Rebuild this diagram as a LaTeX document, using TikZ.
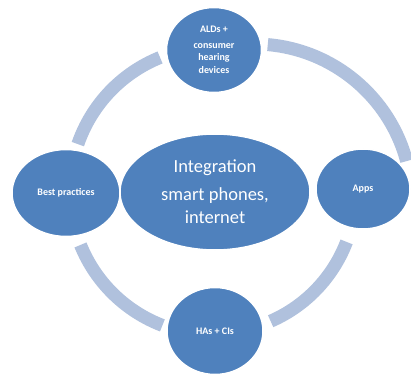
\documentclass[tikz,border=0pt]{standalone}
\usepackage{fontspec}
\setmainfont{Carlito}
\usetikzlibrary{shapes.geometric}
\definecolor{nodeblue}{RGB}{79,129,189}
\definecolor{ringblue}{RGB}{176,193,221}
\tikzset{
  bubble/.style={ellipse, fill=nodeblue, draw=white, line width=1.5pt, inner sep=0pt, text=white, align=center, font=\bfseries\fontsize{10}{12.5}\selectfont},
  ring/.style={draw=ringblue, line width=13pt, line cap=butt}
}
\begin{document}
\begin{tikzpicture}[x=1pt,y=1pt]
\useasboundingbox (0,0) rectangle (411,375);
% ring segments
\draw[ring] ([shift={(112:144)}]214,184) arc[start angle=112, end angle=161, radius=144];
\draw[ring] ([shift={(202:144)}]214,184) arc[start angle=202, end angle=249, radius=144];
\draw[ring] ([shift={(293.5:142)}]214,184) arc[start angle=293.5, end angle=339, radius=142];
\draw[ring] ([shift={(15:158)}]254,173) arc[start angle=15, end angle=85, radius=158];
% center
\node[ellipse, fill=nodeblue, draw=white, line width=1.5pt, minimum width=190pt, minimum height=116pt, inner sep=0pt, text=white, align=center, font=\fontsize{18.5}{23}\selectfont] (center) at (215,183) {Integration\\[5pt]smart phones,\\internet};
% outer nodes
\node[bubble, minimum width=95pt, minimum height=85pt] (top) at (214,325) {ALDs +\\[3pt]consumer\\hearing\\devices};
\node[bubble, minimum width=108pt, minimum height=87pt] (left) at (66,182) {Best practices};
\node[bubble, minimum width=94pt, minimum height=80pt] (right) at (363,186) {Apps};
\node[bubble, minimum width=96pt, minimum height=87pt] (bottom) at (215,44) {HAs + CIs};
\end{tikzpicture}
\end{document}
